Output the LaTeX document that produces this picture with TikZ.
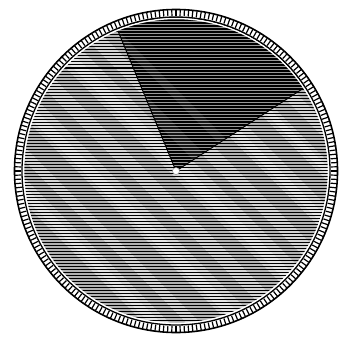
\documentclass[tikz,border=0pt]{standalone}
\begin{document}
\begin{tikzpicture}[x=1pt,y=1pt]
\useasboundingbox (0,0) rectangle (339,338);
\coordinate (c) at (176,167);
% light disc with horizontal hatching
\begin{scope}
\clip (c) circle (152);
\fill[black!30] (c) circle (152);
\begin{scope}[shift={(c)},rotate=45]
\foreach \x/\w in {-130/18,-100/10,-70/22,-35/14,-5/24,30/14,62/20,100/14,128/12}
  \fill[white,opacity=0.45] (\x,-200) rectangle ++(\w,400);
\foreach \x/\w in {-126/8,-66/10,0/10,66/8,104/6}
  \fill[white,opacity=0.4] (\x,-200) rectangle ++(\w,400);
\end{scope}
\foreach \y in {12,15,...,330} \draw[line width=1pt,black] (0,\y) -- (339,\y);
\end{scope}
% dark sector
\begin{scope}
\clip (c) -- ++(33:154) arc (33:112.5:154) -- cycle;
\fill[black] (c) circle (154);
\foreach \y in {13.5,16.5,...,330} \draw[white!60!black,line width=0.5pt] (0,\y) -- (339,\y);
\begin{scope}[shift={(c)},rotate=45]
\foreach \x/\w in {-40/10,-10/8,20/12,50/8}
  \fill[white,opacity=0.08] (\x,-200) rectangle ++(\w,400);
\end{scope}
\end{scope}
\draw[line width=1pt] (c) -- ++(33:153);
\draw[line width=1pt] (c) -- ++(112.5:153);
% ring
\draw[white,line width=1.5pt] (c) circle (152.5);
\draw[line width=1.3pt] (c) circle (154);
\foreach \a in {0,1.5,...,358.5}
  \draw[line width=1.2pt] (c) ++(\a:155) -- ++(\a:6);
\draw[line width=1.6pt] (c) circle (161.5);
% centre pin
\fill[white] (c) circle (3.5);
\draw[line width=0.4pt,gray] (c) circle (3.5);
\end{tikzpicture}
\end{document}
